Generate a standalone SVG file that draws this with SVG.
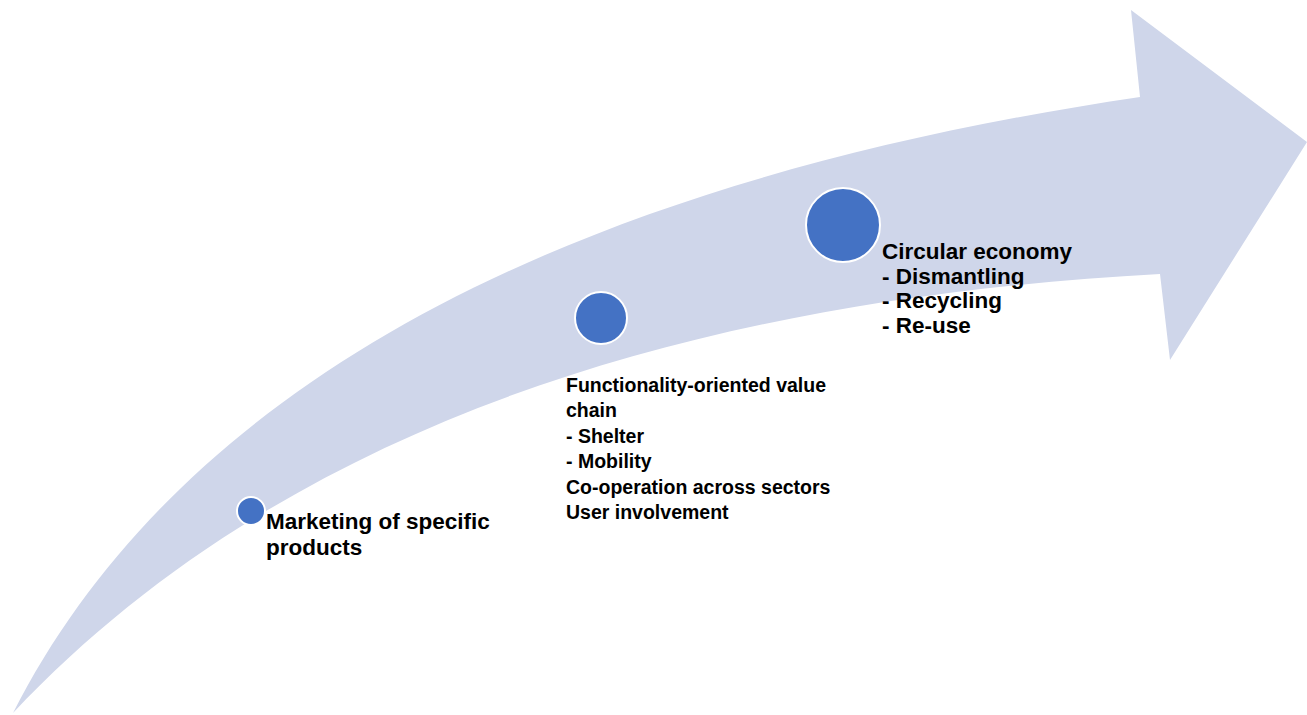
<svg xmlns="http://www.w3.org/2000/svg" width="1307" height="715" viewBox="0 0 1307 715">
<style>
.arrow{fill:#CFD6EA;}
.dot{fill:#4472C4;stroke:#FFFFFF;stroke-width:2;}
.lbl{font-family:"Liberation Sans",Arial,sans-serif;font-weight:bold;fill:#000000;}
</style>
<rect width="1307" height="715" fill="#FFFFFF"/>
<g id="arrow">
<path class="arrow" d="M13,713 C175,395 545,185 1140,97 L1131,10 L1307,142 L1170,360 L1160,274 C680,300 280,430 13,713 Z"/>
</g>
<g id="connectors"></g>
<g id="node-marketing">
<circle class="dot" cx="251" cy="511" r="14"/>
<text class="lbl" font-size="22.5" x="266" y="529">Marketing of specific</text>
<text class="lbl" font-size="22.5" x="266" y="555">products</text>
</g>
<g id="node-functionality">
<circle class="dot" cx="601" cy="318" r="26"/>
<text class="lbl" font-size="19.5" x="566" y="392">Functionality-oriented value</text>
<text class="lbl" font-size="19.5" x="566" y="417">chain</text>
<text class="lbl" font-size="19.5" x="566" y="443">- Shelter</text>
<text class="lbl" font-size="19.5" x="566" y="468">- Mobility</text>
<text class="lbl" font-size="19.5" x="566" y="494">Co-operation across sectors</text>
<text class="lbl" font-size="19.5" x="566" y="519">User involvement</text>
</g>
<g id="node-circular">
<circle class="dot" cx="843" cy="225" r="37"/>
<text class="lbl" font-size="22.5" x="882" y="259">Circular economy</text>
<text class="lbl" font-size="22.5" x="882" y="284">- Dismantling</text>
<text class="lbl" font-size="22.5" x="882" y="308">- Recycling</text>
<text class="lbl" font-size="22.5" x="882" y="333">- Re-use</text>
</g>
</svg>
